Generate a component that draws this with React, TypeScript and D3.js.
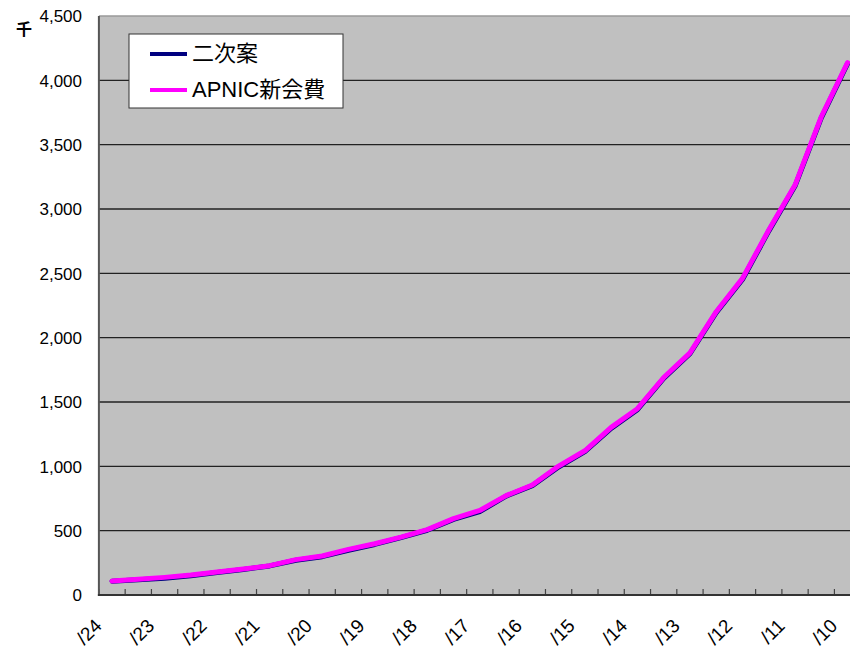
import React from "react";
import * as d3 from "d3";

const categories = [
  "/24", "/24b", "/23", "/23b", "/22", "/22b", "/21", "/21b", "/20", "/20b",
  "/19", "/19b", "/18", "/18b", "/17", "/17b", "/16", "/16b", "/15", "/15b",
  "/14", "/14b", "/13", "/13b", "/12", "/12b", "/11", "/11b", "/10",
];
const apnicNew = [
  109, 122, 137, 155, 179, 202, 228, 275, 303, 355, 398, 450, 508, 594, 657,
  772, 855, 1002, 1121, 1303, 1448, 1690, 1882, 2202, 2461, 2837, 3186, 3717, 4137,
];
const secondDraft = [
  107, 118, 130, 150, 175, 199, 226, 270, 298, 348, 393, 446, 503, 588, 648,
  768, 850, 995, 1115, 1295, 1440, 1683, 1875, 2195, 2452, 2828, 3178, 3708, 4130,
];
const yTicks = [0, 500, 1000, 1500, 2000, 2500, 3000, 3500, 4000, 4500];
const seriesNames = ["二次案", "APNIC新会費"];

const W = 850;
const H = 652;
const left = 98.9;
const right = 860.7;
const top = 16;
const bottom = 595;
const font = "'Liberation Sans', Arial, 'Noto Sans CJK JP', sans-serif";

export default function App() {
  const x = d3.scaleBand<string>().domain(categories).range([left, right]).padding(0);
  const y = d3.scaleLinear().domain([0, 4500]).range([bottom, top]);
  const cx = (c: string) => (x(c) as number) + x.bandwidth() / 2;
  const line = d3
    .line<number>()
    .x((_, i) => cx(categories[i]))
    .y((d) => y(d));
  const fmt = d3.format(",");
  const labelled = categories.filter((_, i) => i % 2 === 0);
  const diag = (c: string) => {
    const ex = cx(c) - 9;
    const ey = 627;
    return `M${ex - 60},${ey + 60}L${ex},${ey}`;
  };

  return (
    <svg
      width={W}
      height={H}
      style={{ position: "absolute", left: 0, top: 0, background: "#fff" }}
      fontFamily={font}
    >
      <defs>
        {labelled.map((c, i) => (
          <path key={"lp" + i} id={"lp" + i} d={diag(c)} />
        ))}
      </defs>
      <rect x={left} y={top} width={right - left} height={bottom - top} fill="#c0c0c0" />
      <line x1={left} x2={W} y1={top} y2={top} stroke="#9a9a9a" strokeWidth={1.5} />
      {yTicks.slice(1, -1).map((t) => (
        <line key={t} x1={left} x2={W} y1={y(t)} y2={y(t)} stroke="#222" strokeWidth={1.3} />
      ))}
      {categories.map((c) => (
        <line
          key={"tk" + c}
          x1={x(c) as number}
          x2={x(c) as number}
          y1={bottom}
          y2={bottom - 6}
          stroke="#444"
          strokeWidth={1.2}
        />
      ))}
      <line x1={left} x2={left} y1={top} y2={bottom + 1} stroke="#555" strokeWidth={2} />
      <line x1={left - 1} x2={W} y1={bottom} y2={bottom} stroke="#333" strokeWidth={2} />
      <path d={line(secondDraft) || ""} fill="none" stroke="#000080" strokeWidth={5} strokeLinejoin="round" strokeLinecap="round" />
      <path d={line(apnicNew) || ""} fill="none" stroke="#ff00ff" strokeWidth={5} strokeLinejoin="round" strokeLinecap="round" />
      {yTicks.map((t) => (
        <text key={"yl" + t} x={82} y={y(t) + 2} textAnchor="end" dominantBaseline="middle" fontSize={17} fill="#000">
          {fmt(t)}
        </text>
      ))}
      <text x={24} y={31} textAnchor="middle" dominantBaseline="middle" fontSize={16} fontWeight="bold" fill="#000">
        千
      </text>
      {labelled.map((c, i) => (
        <text key={"xl" + c} fontSize={19} fill="#000" textAnchor="end">
          <textPath href={"#lp" + i} startOffset="100%">
            {c}
          </textPath>
        </text>
      ))}
      <g>
        <rect x={129} y={34} width={214} height={74} fill="#fff" stroke="#333" strokeWidth={1} />
        {seriesNames.map((n, i) => (
          <g key={n}>
            <line x1={150} x2={187} y1={54 + i * 36} y2={54 + i * 36} stroke={i === 0 ? "#000080" : "#ff00ff"} strokeWidth={4} />
            <text x={192} y={55 + i * 36} dominantBaseline="middle" fontSize={22} fill="#000">
              {n}
            </text>
          </g>
        ))}
      </g>
    </svg>
  );
}
